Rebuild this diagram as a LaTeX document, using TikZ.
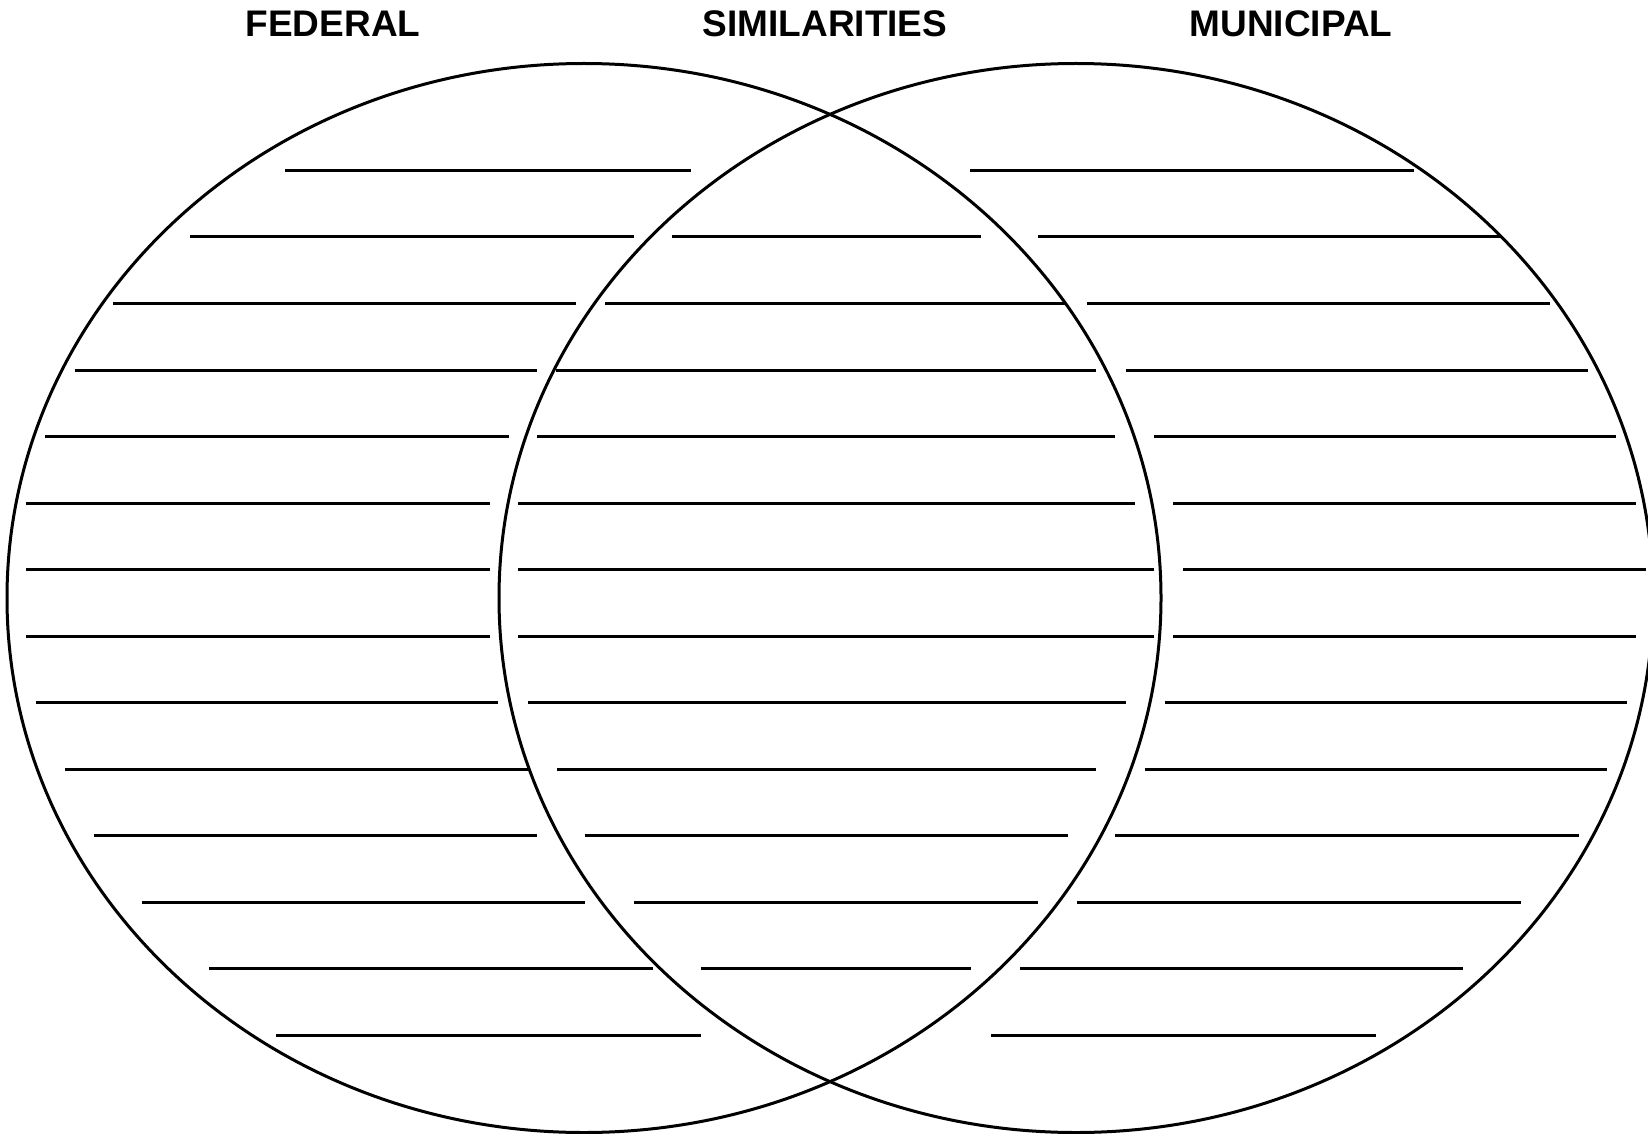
\documentclass[tikz,border=0pt]{standalone}
\usepackage{fontspec}
\setmainfont{Liberation Sans}
\begin{document}
\begin{tikzpicture}[x=0.5pt,y=-0.5pt,
  ring/.style={line width=1.5pt},
  rule/.style={line width=1.5pt},
  head/.style={font=\fontsize{18.5}{22}\selectfont\bfseries, inner sep=0pt, anchor=center}]
\useasboundingbox (0,0) rectangle (1648,1134);
\clip (0,0) rectangle (1648,1134);
\node[head] (fed) at (333,23.5) {FEDERAL};
\node[head] (sim) at (825,23.5) {SIMILARITIES};
\node[head] (mun) at (1291,23.5) {MUNICIPAL};
\draw[ring] (584,598) ellipse [x radius=288.5pt, y radius=267.25pt];
\draw[ring] (1076,598) ellipse [x radius=288.5pt, y radius=267.25pt];
% rows: y / segments
\foreach \y/\a/\b in {
 170.5/285/690.5, 170.5/970/1413.6,
 237/190/634, 237/671.6/980.6, 237/1038/1501,
 303.5/112.5/576, 303.5/605.4/1065.7, 303.5/1086.7/1550,
 370/74.6/537, 370/556/1096, 370/1125.6/1588,
 436.5/45/508.7, 436.5/537/1115, 436.5/1154/1616,
 503/26/490, 503/518/1135, 503/1173/1636,
 569.5/26/490, 569.5/518/1154, 569.5/1183/1646,
 636/26/490, 636/518/1154, 636/1173/1636,
 702.5/35.7/498, 702.5/527.6/1125.6, 702.5/1164.5/1627,
 769/65/527.6, 769/557/1096, 769/1144.5/1607,
 835.5/93.5/537, 835.5/585.4/1068, 835.5/1115/1578.6,
 902/142/585.4, 902/634/1038, 902/1077/1521,
 968.5/209/652.7, 968.5/701/971, 968.5/1019.5/1463,
 1035/276.4/701, 1035/991/1375.8}
  \draw[rule] (\a,\y) -- (\b,\y);
\end{tikzpicture}
\end{document}
